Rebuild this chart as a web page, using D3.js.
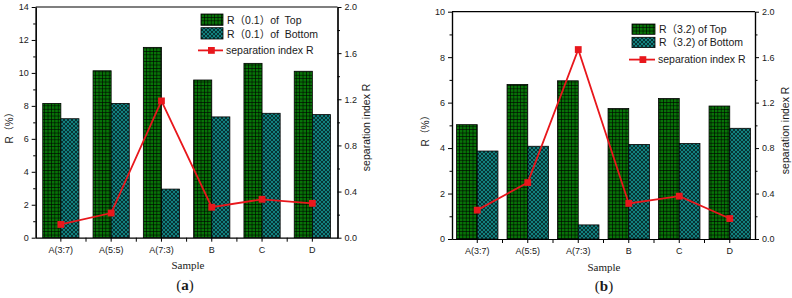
<!DOCTYPE html>
<html>
<head>
<meta charset="utf-8">
<script src="https://cdn.jsdelivr.net/npm/d3@7/dist/d3.min.js"></script>
<style>
  body { margin: 0; background: #fff; }
  text { font-family: Arial, "Liberation Sans", "Noto Sans CJK SC", sans-serif; fill: #1a1a1a; }
  .serif { font-family: "Times New Roman", "Liberation Serif", serif; }
</style>
</head>
<body>
<svg id="chart" width="792" height="298"></svg>
<script>
// data
var categories = ['A(3:7)', 'A(5:5)', 'A(7:3)', 'B', 'C', 'D'];

var topA = [8.15, 10.13, 11.55, 9.57, 10.58, 10.1];
var bottomA = [7.22, 8.15, 2.95, 7.33, 7.55, 7.47];
var sepA = [0.115, 0.214, 1.186, 0.264, 0.333, 0.298];

var topB = [5.03, 6.8, 6.96, 5.74, 6.18, 5.85];
var bottomB = [3.87, 4.08, 0.62, 4.16, 4.2, 4.87];
var sepB = [0.254, 0.497, 1.667, 0.313, 0.377, 0.18];

var leftTicksA = [0, 2, 4, 6, 8, 10, 12, 14];
var leftTicksB = [0, 2, 4, 6, 8, 10];
var rightTicks = [0, 0.4, 0.8, 1.2, 1.6, 2.0];

var legendA = ['R\uFF080.1\uFF09of  Top', 'R\uFF080.1\uFF09of  Bottom', 'separation index R'];
var legendB = ['R\uFF083.2) of Top', 'R\uFF083.2) of Bottom', 'separation index R'];

var GREEN = '#077307', TEAL = '#12807f', RED = '#e8171c';

var svg = d3.select('#chart');
var defs = svg.append('defs');

// square grid for the "Top" bars
var grid = defs.append('pattern')
  .attr('id', 'grid')
  .attr('patternUnits', 'userSpaceOnUse')
  .attr('width', 3.4).attr('height', 3.4);
grid.append('rect').attr('width', 3.4).attr('height', 3.4).attr('fill', GREEN);
grid.append('path').attr('d', 'M0,0.3H3.4M0.3,0V3.4')
  .attr('stroke', '#000').attr('stroke-width', 0.7);

// diagonal cross hatch for the "Bottom" bars
var hatch = defs.append('pattern')
  .attr('id', 'hatch')
  .attr('patternUnits', 'userSpaceOnUse')
  .attr('width', 4).attr('height', 4);
hatch.append('rect').attr('width', 4).attr('height', 4).attr('fill', TEAL);
hatch.append('path').attr('d', 'M0,0L4,4M4,0L0,4M-1,1L1,-1M3,5L5,3M-1,3L1,5M3,-1L5,1')
  .attr('stroke', '#000').attr('stroke-width', 0.6);

drawPanel({
  left: 35.7, right: 337.5, top: 7, bottom: 237.7,
  yMax: 14, leftTicks: leftTicksA, pair: 0.72,
  topVals: topA, bottomVals: bottomA, sep: sepA, legend: legendA,
  legX: 201, legY: 14, legW: 22, legH: 11.3, legGap: 13.7,
  yLabelX: 9, y2LabelX: 366, sampleX: 188, sampleY: 269,
  capX: 185, capY: 290, caption: 'a'
});

drawPanel({
  left: 452, right: 755, top: 11.7, bottom: 239,
  yMax: 10, leftTicks: leftTicksB, pair: 0.82,
  topVals: topB, bottomVals: bottomB, sep: sepB, legend: legendB,
  legX: 632, legY: 24, legW: 23, legH: 10.3, legGap: 13.3,
  yLabelX: 425, y2LabelX: 785, sampleX: 604, sampleY: 271,
  capX: 604, capY: 291, caption: 'b'
});

function drawPanel(p) {
  var g = svg.append('g');

  var x = d3.scaleBand().domain(categories).range([p.left, p.right]);
  var pairW = x.bandwidth() * p.pair;
  var sub = d3.scaleBand().domain(['top', 'bottom']).range([0, pairW]);
  var shift = (x.bandwidth() - pairW) / 2;
  var y = d3.scaleLinear().domain([0, p.yMax]).range([p.bottom, p.top]);
  var y2 = d3.scaleLinear().domain([0, 2]).range([p.bottom, p.top]);

  var rows = categories.map(function(c, i) {
    return { cat: c, top: p.topVals[i], bottom: p.bottomVals[i], sep: p.sep[i] };
  });

  // bars
  ['top', 'bottom'].forEach(function(key) {
    g.selectAll('rect.' + key)
      .data(rows)
      .enter()
      .append('rect')
      .attr('class', key)
      .attr('x', function(d) { return x(d.cat) + shift + sub(key); })
      .attr('y', function(d) { return y(d[key]); })
      .attr('width', sub.bandwidth())
      .attr('height', function(d) { return p.bottom - y(d[key]); })
      .attr('fill', key == 'top' ? 'url(#grid)' : 'url(#hatch)')
      .attr('stroke', '#000')
      .attr('stroke-width', 0.8);
  });

  // left axis, major + minor
  var minorLeft = d3.range(1, p.yMax, 2);
  g.append('g')
    .attr('transform', 'translate(' + p.left + ',0)')
    .call(d3.axisLeft(y).tickValues(minorLeft).tickSize(2.5).tickSizeOuter(0).tickFormat(''));
  g.append('g')
    .attr('transform', 'translate(' + p.left + ',0)')
    .call(d3.axisLeft(y).tickValues(p.leftTicks).tickSize(4).tickSizeOuter(0).tickPadding(3));

  // right axis
  var minorRight = [0.2, 0.6, 1.0, 1.4, 1.8];
  g.append('g')
    .attr('transform', 'translate(' + p.right + ',0)')
    .call(d3.axisRight(y2).tickValues(minorRight).tickSize(2.5).tickSizeOuter(0).tickFormat(''));
  g.append('g')
    .attr('transform', 'translate(' + p.right + ',0)')
    .call(d3.axisRight(y2).tickValues(rightTicks).tickSize(4).tickSizeOuter(0).tickPadding(3)
      .tickFormat(d3.format('.1f')));

  // bottom axis: ticks at category centres and at band edges
  g.append('g')
    .attr('transform', 'translate(0,' + p.bottom + ')')
    .call(d3.axisBottom(x).tickSize(4).tickSizeOuter(0).tickPadding(5));
  g.selectAll('line.edge')
    .data(categories.slice(1))
    .enter()
    .append('line')
    .attr('class', 'edge')
    .attr('x1', function(d) { return x(d); })
    .attr('x2', function(d) { return x(d); })
    .attr('y1', p.bottom)
    .attr('y2', p.bottom + 4)
    .attr('stroke', '#000');

  // top frame line
  g.append('line')
    .attr('x1', p.left).attr('x2', p.right)
    .attr('y1', p.top).attr('y2', p.top)
    .attr('stroke', '#000').attr('stroke-width', 1.2);

  g.selectAll('.domain').attr('stroke', '#000').attr('stroke-width', 1.2);
  g.selectAll('.tick line').attr('stroke', '#000');
  g.selectAll('.tick text').style('font-size', '9px').attr('fill', '#1a1a1a');

  // separation index line
  var line = d3.line()
    .x(function(d) { return x(d.cat) + x.bandwidth() / 2; })
    .y(function(d) { return y2(d.sep); });
  g.append('path')
    .datum(rows)
    .attr('d', line)
    .attr('fill', 'none')
    .attr('stroke', RED)
    .attr('stroke-width', 1.8);
  g.selectAll('rect.mark')
    .data(rows)
    .enter()
    .append('rect')
    .attr('class', 'mark')
    .attr('x', function(d) { return x(d.cat) + x.bandwidth() / 2 - 3.4; })
    .attr('y', function(d) { return y2(d.sep) - 3.4; })
    .attr('width', 6.8)
    .attr('height', 6.8)
    .attr('fill', RED);

  // axis titles
  g.append('text')
    .attr('transform', 'translate(' + (p.yLabelX + 4) + ',' + ((p.top + p.bottom) / 2 + 3) + ') rotate(-90)')
    .attr('text-anchor', 'middle')
    .style('font-size', '10px')
    .text('R\uFF08%\uFF09');
  g.append('text')
    .attr('transform', 'translate(' + (p.y2LabelX + 4) + ',' + ((p.top + p.bottom) / 2 + 5) + ') rotate(-90)')
    .attr('text-anchor', 'middle')
    .style('font-size', '10.5px')
    .text('separation index R');
  g.append('text')
    .attr('class', 'serif')
    .attr('x', p.sampleX).attr('y', p.sampleY)
    .attr('text-anchor', 'middle')
    .style('font-size', '11px')
    .text('Sample');
  var cap = g.append('text')
    .attr('class', 'serif')
    .attr('x', p.capX).attr('y', p.capY)
    .attr('text-anchor', 'middle')
    .style('font-size', '15px');
  cap.append('tspan').text('(');
  cap.append('tspan').style('font-weight', 'bold').text(p.caption);
  cap.append('tspan').text(')');

  // legend
  var leg = g.append('g');
  ['url(#grid)', 'url(#hatch)'].forEach(function(fill, i) {
    leg.append('rect')
      .attr('x', p.legX).attr('y', p.legY + i * p.legGap)
      .attr('width', p.legW).attr('height', p.legH)
      .attr('fill', fill).attr('stroke', '#000').attr('stroke-width', 0.8);
    leg.append('text')
      .attr('x', p.legX + p.legW + 4)
      .attr('y', p.legY + i * p.legGap + p.legH - 1.5)
      .style('font-size', '10.5px')
      .style('white-space', 'pre')
      .text(p.legend[i]);
  });
  var ly = p.legY + 2 * p.legGap + 9;
  leg.append('line')
    .attr('x1', p.legX - 3).attr('x2', p.legX + p.legW)
    .attr('y1', ly).attr('y2', ly)
    .attr('stroke', RED).attr('stroke-width', 1.8);
  leg.append('rect')
    .attr('x', p.legX + p.legW / 2 - 4).attr('y', ly - 3.4)
    .attr('width', 6.8).attr('height', 6.8)
    .attr('fill', RED);
  leg.append('text')
    .attr('x', p.legX + p.legW + 3)
    .attr('y', ly + 3.6)
    .style('font-size', '10.5px')
    .text(p.legend[2]);
}
</script>
</body>
</html>
